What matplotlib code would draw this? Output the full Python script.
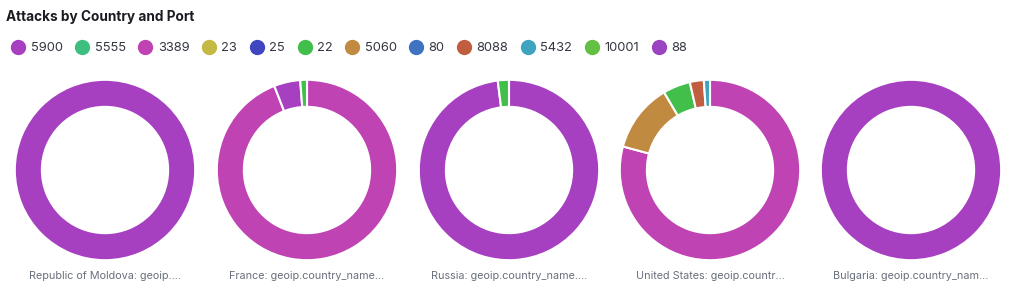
import matplotlib
matplotlib.use("Agg")
import matplotlib.pyplot as plt
from matplotlib.lines import Line2D

plt.rcParams['font.family'] = ['Inter', 'DejaVu Sans']

# legend / palette
ports = ['5900', '5555', '3389', '23', '25', '22', '5060', '80', '8088', '5432', '10001', '88']
port_colors = ['#a63fc0', '#3ebf80', '#c043b3', '#c3b943', '#3f46c0', '#42bf4a',
               '#c08a40', '#3f73c1', '#c05e3f', '#3fa4c0', '#63c043', '#9a44c1']
color_of = dict(zip(ports, port_colors))

# one donut per country, slices in clockwise order from 12 o'clock (share in %)
countries = ['Republic of Moldova: geoip....', 'France: geoip.country_name...',
             'Russia: geoip.country_name....', 'United States: geoip.countr...',
             'Bulgaria: geoip.country_nam...']
moldova_ports = ['5900']
moldova_vals = [100]
france_ports = ['3389', '5900', '22']
france_vals = [94.1, 4.7, 1.2]
russia_ports = ['5900', '22']
russia_vals = [98.0, 2.0]
us_ports = ['3389', '5060', '22', '8088', '5432']
us_vals = [79.2, 12.3, 4.9, 2.5, 1.1]
bulgaria_ports = ['5900']
bulgaria_vals = [100]

slices = [(moldova_ports, moldova_vals), (france_ports, france_vals),
          (russia_ports, russia_vals), (us_ports, us_vals),
          (bulgaria_ports, bulgaria_vals)]

W, H = 1023, 293
fig = plt.figure(figsize=(W / 100, H / 100), dpi=100)

fig.text(6 / W, 1 - 17 / H, 'Attacks by Country and Port', fontsize=9.8,
         fontweight='bold', color='#1a1c21', va='center', ha='left')

handles = [Line2D([], [], marker='o', linestyle='', markersize=10,
                  markerfacecolor=c, markeredgecolor=c) for c in port_colors]
fig.legend(handles, ports, loc='center left', bbox_to_anchor=(-1 / W, 1 - 48 / H),
           ncol=len(ports), frameon=False, fontsize=9.3, handletextpad=0.35,
           columnspacing=0.93, handlelength=1.2, labelcolor='#343741')

centers = [105, 307, 509, 710, 911]
cy = 170
r = 92
for (p, v), name, cx in zip(slices, countries, centers):
    ax = fig.add_axes([(cx - r) / W, 1 - (cy + r) / H, 2 * r / W, 2 * r / H])
    ax.pie(v, colors=[color_of[k] for k in p], startangle=90, counterclock=False,
           radius=1.0, wedgeprops=dict(width=0.3, edgecolor='white', linewidth=1.5))
    ax.set_xlim(-1.02, 1.02)
    ax.set_ylim(-1.02, 1.02)
    ax.set_aspect('equal')
    ax.axis('off')
    fig.text(cx / W, 1 - 276 / H, name, fontsize=7.8, color='#69707d',
             ha='center', va='center')

fig.savefig('out.png', dpi=100, facecolor='white')
